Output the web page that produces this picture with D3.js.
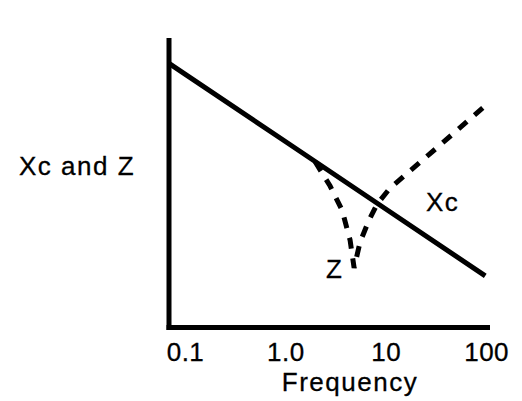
<!DOCTYPE html>
<html>
<head>
<meta charset="utf-8">
<script src="https://cdn.jsdelivr.net/npm/d3@7"></script>
<style>
  body { margin: 0; background: #fff; }
  text { font-family: "Liberation Sans", Arial, Helvetica, sans-serif; fill: #000; stroke: #000; stroke-width: 0.3px; }
</style>
</head>
<body>
<script>
var width = 522;
var height = 401;

// tick labels on the frequency axis
var tickValues = [0.1, 1, 10, 100];
var tickLabels = ["0.1", "1.0", "10", "100"];

// capacitive reactance Xc (solid, falls as 1/f)
var xcFreq = [0.0705, 0.1, 1, 10, 98];
var xcValue = [7970, 5620, 562, 56.2, 5.73];

// impedance Z (dashed, dips at resonance then rises)
var zFreq = [1.98, 2.79, 3.67, 4.41, 4.84, 5.55, 6.82, 8.2, 11.05, 34.8, 100];
var zValue = [282, 123, 54, 19.5, 7.5, 18.2, 38.6, 66.6, 115, 499, 1955];

var fontSize = 26;

var x = d3.scaleLog()
    .domain([0.0685, 102])
    .range([168.5, 487]);

var y = d3.scaleLog()
    .domain([1, 18000])
    .range([327, 40]);

var svg = d3.select("body")
    .append("svg")
    .attr("width", width)
    .attr("height", height);

var line = d3.line()
    .x(function(d) { return x(d[0]); })
    .y(function(d) { return y(d[1]); });

var xcData = xcFreq.map(function(f, i) { return [f, xcValue[i]]; });
var zData = zFreq.map(function(f, i) { return [f, zValue[i]]; });

// axes
var xAxis = svg.append("g")
    .attr("transform", "translate(0," + y(1) + ")")
    .call(d3.axisBottom(x)
        .tickValues(tickValues)
        .tickFormat(function(d, i) { return tickLabels[i]; })
        .tickSize(0)
        .tickPadding(16));

var yAxis = svg.append("g")
    .attr("transform", "translate(" + x.range()[0] + ",0)")
    .call(d3.axisLeft(y).tickValues([]).tickSize(0));

svg.selectAll(".domain")
    .attr("stroke", "#000")
    .attr("stroke-width", 5)
    .attr("stroke-linecap", "square");

xAxis.selectAll("text")
    .attr("font-size", fontSize)
    .attr("font-family", null)
    .attr("fill", null)
    .attr("letter-spacing", 0.5);

// Xc line
svg.append("path")
    .datum(xcData)
    .attr("fill", "none")
    .attr("stroke", "#000")
    .attr("stroke-width", 5)
    .attr("d", line);

// Z line
svg.append("path")
    .datum(zData)
    .attr("fill", "none")
    .attr("stroke", "#000")
    .attr("stroke-width", 5)
    .attr("stroke-dasharray", "11,10")
    .attr("d", line);

// labels
function label(tx, ty, str, anchor) {
    svg.append("text")
        .attr("x", tx)
        .attr("y", ty)
        .attr("text-anchor", anchor || "start")
        .attr("font-size", fontSize)
        .attr("letter-spacing", 1.5)
        .text(str);
}

label(19, 175, "Xc and Z");
label(426, 211, "Xc");
label(326, 278, "Z");
label(350, 391, "Frequency", "middle");
</script>
</body>
</html>
